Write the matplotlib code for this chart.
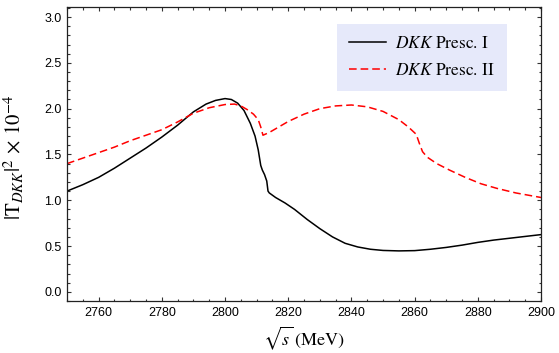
"""|T_DKK|^2 line chart, two prescriptions (559x353)"""
import matplotlib
matplotlib.use("Agg")
import matplotlib.pyplot as plt
from matplotlib.ticker import MultipleLocator

matplotlib.rcParams["font.family"] = ["Liberation Sans", "DejaVu Sans"]
matplotlib.rcParams["mathtext.fontset"] = "stix"

# --- data ---
sqrt_s_1 = [2750, 2755, 2760, 2765, 2770, 2775, 2780, 2785, 2790, 2794, 2797, 2800,
            2802, 2804, 2806, 2808, 2809.5, 2810.5, 2811.3, 2811.8, 2812.5, 2813.2,
            2813.6, 2814, 2816, 2819, 2822, 2826, 2830, 2834, 2838, 2842, 2846, 2850,
            2855, 2860, 2865, 2870, 2875, 2880, 2885, 2890, 2895, 2900]
t_presc_1 = [1.10, 1.17, 1.25, 1.35, 1.46, 1.57, 1.69, 1.82, 1.965, 2.05, 2.09, 2.11,
             2.10, 2.06, 1.98, 1.84, 1.70, 1.55, 1.38, 1.33, 1.28, 1.21,
             1.10, 1.08, 1.03, 0.97, 0.90, 0.79, 0.69, 0.60, 0.53, 0.49, 0.465, 0.452,
             0.447, 0.45, 0.465, 0.485, 0.51, 0.54, 0.565, 0.585, 0.605, 0.625]

sqrt_s_2 = [2750, 2755, 2760, 2765, 2770, 2775, 2780, 2785, 2790, 2795, 2800, 2803,
            2805, 2807, 2809, 2810.5, 2811.3, 2812, 2814, 2817, 2820, 2825, 2830, 2835,
            2840, 2845, 2850, 2855, 2858, 2860.5, 2861.5, 2862.5, 2864, 2867, 2871,
            2876, 2881, 2886, 2892, 2896, 2900]
t_presc_2 = [1.40, 1.46, 1.52, 1.58, 1.65, 1.71, 1.77, 1.855, 1.95, 2.01, 2.045, 2.05,
             2.03, 1.99, 1.94, 1.88, 1.80, 1.71, 1.74, 1.80, 1.86, 1.94, 2.00, 2.03,
             2.04, 2.02, 1.97, 1.88, 1.80, 1.72, 1.62, 1.53, 1.47, 1.40, 1.33,
             1.25, 1.18, 1.13, 1.08, 1.055, 1.03]

labels = [r"$DKK$ Presc. I", r"$DKK$ Presc. II"]

fig = plt.figure(figsize=(5.59, 3.53), dpi=100, facecolor="white")
ax = fig.add_axes([0.1199, 0.1473, 0.848, 0.8329])

ax.plot(sqrt_s_1, t_presc_1, color="black", lw=1.1, label=labels[0])
ax.plot(sqrt_s_2, t_presc_2, color="#ff0000", lw=1.1, dashes=(5.0, 2.6), label=labels[1])

ax.set_xlim(2750, 2900)
ax.set_ylim(-0.1, 3.11)
ax.xaxis.set_major_locator(MultipleLocator(20))
ax.xaxis.set_minor_locator(MultipleLocator(5))
ax.yaxis.set_major_locator(MultipleLocator(0.5))
ax.yaxis.set_minor_locator(MultipleLocator(0.1))
ax.yaxis.set_major_formatter(matplotlib.ticker.FormatStrFormatter("%.1f"))
ax.tick_params(which="both", direction="in", top=True, right=True, width=0.8, color="#333")
ax.tick_params(which="major", length=3.2, labelsize=9, pad=4)
ax.tick_params(which="minor", length=1.8)
for sp in ax.spines.values():
    sp.set_linewidth(0.9)
    sp.set_color("#222")

ax.set_xlabel(r"$\sqrt{s}\;(\mathrm{MeV})$", fontsize=13)
ax.xaxis.set_label_coords(0.5, -0.08)
ax.set_ylabel(r"$|\mathrm{T}_{DKK}|^{2}\,\times\,10^{-4}$", fontsize=15)
ax.yaxis.set_label_coords(-0.086, 0.49)

leg = ax.legend(loc="upper left", bbox_to_anchor=(0.57, 0.942), borderaxespad=0,
                fancybox=False, frameon=True, framealpha=1, handlelength=2.1,
                handletextpad=0.55, labelspacing=0.6, borderpad=0.7,
                prop={"family": "STIXGeneral", "size": 12.5})
leg.get_frame().set_facecolor("#e6e9fa")
leg.get_frame().set_edgecolor("none")

fig.savefig("out.png", dpi=100)
